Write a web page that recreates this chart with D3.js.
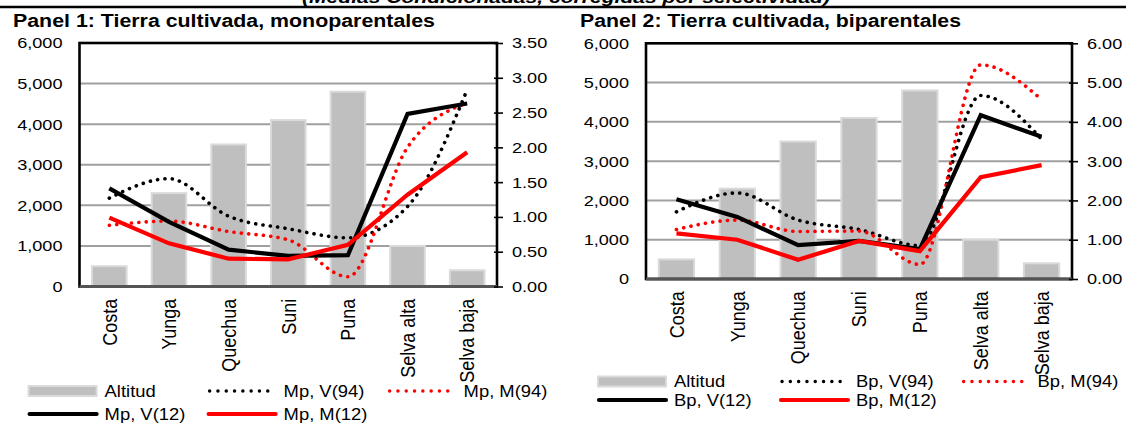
<!DOCTYPE html>
<html>
<head>
<meta charset="utf-8">
<script src="https://cdn.jsdelivr.net/npm/d3@7"></script>
<style>
  html, body { margin: 0; padding: 0; background: #fff; }
  svg { display: block; font-family: "Liberation Sans", Arial, sans-serif; }
</style>
</head>
<body>
<svg id="chart" width="1126" height="423"></svg>
<script>
// ---------------- DATA ----------------
const categories = ["Costa", "Yunga", "Quechua", "Suni", "Puna", "Selva alta", "Selva baja"];
const altitud = [500, 2300, 3500, 4100, 4800, 1000, 400];

// Panel 1: monoparentales (right axis)
const mpV94 = [1.27, 1.55, 1.01, 0.83, 0.70, 1.15, 2.83];
const mpM94 = [0.88, 0.94, 0.79, 0.67, 0.14, 2.00, 2.64];
const mpV12 = [1.41, 0.93, 0.53, 0.44, 0.45, 2.48, 2.63];
const mpM12 = [0.99, 0.62, 0.40, 0.39, 0.60, 1.32, 1.93];

// Panel 2: biparentales (right axis)
const bpV94 = [1.71, 2.19, 1.50, 1.26, 0.85, 4.67, 3.56];
const bpM94 = [1.26, 1.50, 1.21, 1.22, 0.37, 5.45, 4.57];
const bpV12 = [2.03, 1.58, 0.86, 0.97, 0.76, 4.17, 3.62];
const bpM12 = [1.16, 1.00, 0.49, 0.97, 0.71, 2.59, 2.90];

const leftTicks = [0, 1000, 2000, 3000, 4000, 5000, 6000];
const rightTicks1 = [0, 0.5, 1, 1.5, 2, 2.5, 3, 3.5];
const rightTicks2 = [0, 1, 2, 3, 4, 5, 6];

const headerText = "(Medias Condicionadas, corregidas por selectividad)";
const title1 = "Panel 1: Tierra cultivada, monoparentales";
const title2 = "Panel 2: Tierra cultivada, biparentales";
const legend1 = ["Altitud", "Mp, V(94)", "Mp, M(94)", "Mp, V(12)", "Mp, M(12)"];
const legend2 = ["Altitud", "Bp, V(94)", "Bp, M(94)", "Bp, V(12)", "Bp, M(12)"];

// ---------------- STYLE / LAYOUT ----------------
const FONT_STRETCH = 1.17;
const svg = d3.select("#chart");

function stretch(sel, sx) {
  sel.each(function () {
    const t = d3.select(this);
    const x = +t.attr("x") || 0, y = +t.attr("y") || 0;
    t.attr("x", 0).attr("y", 0).attr("transform", `translate(${x},${y}) scale(${sx},1)`);
  });
}

// header (clipped at top) + rule
svg.append("text")
  .attr("x", 302).attr("y", 2.5)
  .attr("textLength", 528).attr("lengthAdjust", "spacingAndGlyphs")
  .style("font-size", "16px").style("font-weight", "bold").style("font-style", "italic")
  .text(headerText);
svg.append("line").attr("x1", 0).attr("x2", 1126).attr("y1", 7).attr("y2", 7)
  .attr("stroke", "#000").attr("stroke-width", 2.5);

const panels = [
  { title: title1, tx: 13, tlen: 422, x0: 79.5, x1: 497, y0: 43, y1: 286.5, rTicks: rightTicks1, rMax: 3.5,
    v94: mpV94, m94: mpM94, v12: mpV12, m12: mpM12, legend: legend1,
    lx: [28.6, 207.6, 387.6], ly: [391, 414] },
  { title: title2, tx: 580, tlen: 381, x0: 646, x1: 1072, y0: 43.3, y1: 279, rTicks: rightTicks2, rMax: 6,
    v94: bpV94, m94: bpM94, v12: bpV12, m12: bpM12, legend: legend2,
    lx: [598, 780, 961.6], ly: [381.5, 400] }
];

panels.forEach(p => {
  const g = svg.append("g");

  g.append("text").attr("x", p.tx).attr("y", 27)
    .attr("textLength", p.tlen).attr("lengthAdjust", "spacingAndGlyphs")
    .style("font-size", "17.5px").style("font-weight", "bold")
    .text(p.title);

  const x = d3.scaleBand().domain(categories).range([p.x0, p.x1]).paddingInner(0.42).paddingOuter(0.21);
  const yL = d3.scaleLinear().domain([0, 6000]).range([p.y1, p.y0]);
  const yR = d3.scaleLinear().domain([0, p.rMax]).range([p.y1, p.y0]);
  const cx = d => x(d) + x.bandwidth() / 2;

  // gridlines
  g.append("g").selectAll("line").data(leftTicks).join("line")
    .attr("x1", p.x0).attr("x2", p.x1)
    .attr("y1", d => yL(d)).attr("y2", d => yL(d))
    .attr("stroke", "#a0a0a0").attr("stroke-width", 2);

  // bars
  g.append("g").selectAll("rect").data(altitud).join("rect")
    .attr("x", (d, i) => x(categories[i]))
    .attr("width", x.bandwidth())
    .attr("y", d => yL(d))
    .attr("height", d => yL(0) - yL(d))
    .attr("fill", "#bfbfbf").attr("stroke", "#dadada").attr("stroke-width", 2);

  // lines
  const straight = d3.line().x((d, i) => cx(categories[i])).y(d => yR(d));
  const smooth = d3.line().x((d, i) => cx(categories[i])).y(d => yR(d)).curve(d3.curveMonotoneX);
  const series = [
    { data: p.v94, color: "#000", dotted: true },
    { data: p.m94, color: "#ff0000", dotted: true },
    { data: p.v12, color: "#000", dotted: false },
    { data: p.m12, color: "#ff0000", dotted: false }
  ];
  series.forEach(s => {
    const path = g.append("path").datum(s.data)
      .attr("fill", "none").attr("stroke", s.color);
    if (s.dotted) {
      path.attr("d", smooth).attr("stroke-width", 3.6)
        .attr("stroke-dasharray", "0.1 7.3").attr("stroke-linecap", "round");
    } else {
      path.attr("d", straight).attr("stroke-width", 4.2).attr("stroke-linejoin", "miter");
    }
  });

  // frame
  g.append("rect").attr("x", p.x0).attr("y", p.y0)
    .attr("width", p.x1 - p.x0).attr("height", p.y1 - p.y0)
    .attr("fill", "none").attr("stroke", "#000").attr("stroke-width", 2.6);
  g.append("line").attr("x1", p.x0).attr("x2", p.x1).attr("y1", p.y1).attr("y2", p.y1)
    .attr("stroke", "#555").attr("stroke-width", 3);

  // left axis
  const la = g.append("g").attr("transform", `translate(${p.x0},0)`)
    .call(d3.axisLeft(yL).tickValues(leftTicks).tickFormat(d3.format(",")).tickSize(0).tickPadding(17));
  la.select(".domain").remove();
  la.selectAll("text").style("font-size", "15.5px").style("font-family", "Liberation Sans, Arial, sans-serif")
    .attr("fill", "#000");
  stretch(la.selectAll("text"), FONT_STRETCH);

  // right axis
  const ra = g.append("g").attr("transform", `translate(${p.x1},0)`)
    .call(d3.axisRight(yR).tickValues(p.rTicks).tickFormat(d3.format(".2f")).tickSize(5).tickPadding(10));
  ra.select(".domain").remove();
  ra.selectAll(".tick line").attr("x1", -3).attr("x2", 6).attr("stroke", "#000").attr("stroke-width", 1.6);
  ra.selectAll("text").style("font-size", "15.5px").style("font-family", "Liberation Sans, Arial, sans-serif")
    .attr("fill", "#000");
  stretch(ra.selectAll("text"), FONT_STRETCH);

  // category labels
  g.append("g").selectAll("text").data(categories).join("text")
    .attr("transform", d => `translate(${cx(d)},${p.y1 + 12.3}) scale(1.15,1) rotate(-90)`)
    .attr("text-anchor", "end").attr("dy", "0.35em")
    .style("font-size", "18px")
    .text(d => d);

  // legend
  const items = [
    { label: p.legend[0], type: "bar", col: 0, row: 0 },
    { label: p.legend[1], type: "dot", color: "#000", col: 1, row: 0 },
    { label: p.legend[2], type: "dot", color: "#ff0000", col: 2, row: 0 },
    { label: p.legend[3], type: "line", color: "#000", col: 0, row: 1 },
    { label: p.legend[4], type: "line", color: "#ff0000", col: 1, row: 1 }
  ];
  const lg = g.append("g");
  items.forEach(it => {
    const lx = p.lx[it.col], ly = p.ly[it.row];
    if (it.type === "bar") {
      lg.append("rect").attr("x", lx).attr("y", ly - 5).attr("width", 68).attr("height", 10)
        .attr("fill", "#bfbfbf").attr("stroke", "#dadada").attr("stroke-width", 2);
    } else if (it.type === "dot") {
      lg.append("line").attr("x1", lx + 2).attr("x2", lx + 68).attr("y1", ly).attr("y2", ly)
        .attr("stroke", it.color).attr("stroke-width", 3.4)
        .attr("stroke-dasharray", "0.1 8.2").attr("stroke-linecap", "round");
    } else {
      lg.append("line").attr("x1", lx + 1).attr("x2", lx + 68).attr("y1", ly).attr("y2", ly)
        .attr("stroke", it.color).attr("stroke-width", 4.2).attr("stroke-linecap", "round");
    }
    const t = lg.append("text").attr("x", lx + 76).attr("y", ly).attr("dy", "0.35em")
      .style("font-size", "16px").text(it.label);
    stretch(t, 1.15);
  });
});
</script>
</body>
</html>
